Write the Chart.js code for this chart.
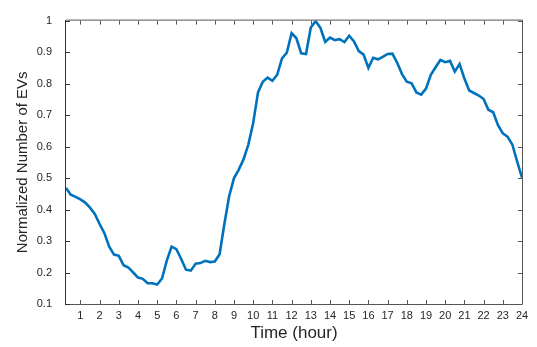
<!DOCTYPE html>
<html lang="en">
<head>
    <meta charset="UTF-8">
    <title>Normalized Number of EVs</title>
    <style>
        html, body {
            margin: 0;
            padding: 0;
            background-color: #fff;
        }
        .chart-box {
            width: 537px;
            height: 347px;
        }
    </style>
</head>
<body>

<div class="chart-box">
    <canvas id="evChart" width="537" height="347"></canvas>
</div>

<script src="https://cdn.jsdelivr.net/npm/chart.js"></script>
<script>
    // time of day, every 15 minutes
    const hours = [
        0.25, 0.5, 0.75, 1, 1.25, 1.5, 1.75, 2, 2.25, 2.5, 2.75, 3,
        3.25, 3.5, 3.75, 4, 4.25, 4.5, 4.75, 5, 5.25, 5.5, 5.75, 6,
        6.25, 6.5, 6.75, 7, 7.25, 7.5, 7.75, 8, 8.25, 8.5, 8.75, 9,
        9.25, 9.5, 9.75, 10, 10.25, 10.5, 10.75, 11, 11.25, 11.5, 11.75, 12,
        12.25, 12.5, 12.75, 13, 13.25, 13.5, 13.75, 14, 14.25, 14.5, 14.75, 15,
        15.25, 15.5, 15.75, 16, 16.25, 16.5, 16.75, 17, 17.25, 17.5, 17.75, 18,
        18.25, 18.5, 18.75, 19, 19.25, 19.5, 19.75, 20, 20.25, 20.5, 20.75, 21,
        21.25, 21.5, 21.75, 22, 22.25, 22.5, 22.75, 23, 23.25, 23.5, 23.75, 24
    ];

    const evCount = [
        0.468, 0.447, 0.440, 0.432, 0.422, 0.406, 0.386, 0.354, 0.325, 0.282, 0.257, 0.253,
        0.223, 0.216, 0.200, 0.184, 0.180, 0.166, 0.166, 0.162, 0.181, 0.238, 0.282, 0.274,
        0.243, 0.209, 0.206, 0.228, 0.230, 0.237, 0.233, 0.235, 0.258, 0.355, 0.443, 0.500,
        0.527, 0.560, 0.607, 0.675, 0.772, 0.806, 0.819, 0.809, 0.828, 0.880, 0.898, 0.960,
        0.944, 0.896, 0.894, 0.978, 0.998, 0.977, 0.932, 0.946, 0.938, 0.941, 0.932, 0.952,
        0.934, 0.903, 0.892, 0.850, 0.882, 0.877, 0.885, 0.894, 0.895, 0.866, 0.830, 0.806,
        0.801, 0.772, 0.765, 0.784, 0.828, 0.852, 0.875, 0.868, 0.872, 0.838, 0.862, 0.816,
        0.778, 0.770, 0.762, 0.751, 0.717, 0.709, 0.668, 0.642, 0.631, 0.606, 0.552, 0.501
    ];

    const xTicks = [1, 2, 3, 4, 5, 6, 7, 8, 9, 10, 11, 12, 13, 14, 15, 16, 17, 18, 19, 20, 21, 22, 23, 24];
    const yTicks = [0.1, 0.2, 0.3, 0.4, 0.5, 0.6, 0.7, 0.8, 0.9, 1];

    const fontFamily = 'Liberation Sans, Arial, sans-serif';
    const tickFont = { family: fontFamily, size: 11 };
    const axisColor = '#262626';

    // MATLAB-style box with inward tick marks on all four sides
    const boxPlugin = {
        id: 'matlabBox',
        afterDraw(chart) {
            const { ctx, chartArea: a, scales } = chart;
            const len = 4;
            ctx.save();
            ctx.lineWidth = 1;
            ctx.strokeStyle = '#555';
            ctx.beginPath();
            ctx.moveTo(a.left, a.bottom + 0.5);
            ctx.lineTo(a.right + 0.5, a.bottom + 0.5);
            ctx.lineTo(a.right + 0.5, a.top - 0.5);
            ctx.lineTo(a.left, a.top - 0.5);
            xTicks.forEach(v => {
                const x = Math.round(scales.x.getPixelForValue(v)) + 0.5;
                ctx.moveTo(x, a.bottom);
                ctx.lineTo(x, a.bottom - len);
                ctx.moveTo(x, a.top);
                ctx.lineTo(x, a.top + len);
            });
            yTicks.forEach(v => {
                const y = Math.round(scales.y.getPixelForValue(v)) + 0.5;
                ctx.moveTo(a.right, y);
                ctx.lineTo(a.right - len, y);
            });
            ctx.stroke();
            ctx.strokeStyle = '#333';
            ctx.beginPath();
            ctx.moveTo(a.left - 0.5, a.top - 0.5);
            ctx.lineTo(a.left - 0.5, a.bottom + 1);
            yTicks.forEach(v => {
                const y = Math.round(scales.y.getPixelForValue(v)) + 0.5;
                ctx.moveTo(a.left, y);
                ctx.lineTo(a.left + len, y);
            });
            ctx.stroke();
            ctx.restore();
        }
    };

    const config = {
        type: 'line',
        data: {
            datasets: [{
                data: hours.map((h, i) => ({ x: h, y: evCount[i] })),
                borderColor: '#0072BD',
                borderWidth: 2.6,
                pointRadius: 0,
                tension: 0,
                fill: false
            }]
        },
        options: {
            responsive: false,
            animation: false,
            layout: { padding: { top: 7, right: 15, bottom: 0, left: 0 } },
            plugins: {
                legend: { display: false },
                tooltip: { enabled: false }
            },
            scales: {
                x: {
                    type: 'linear',
                    min: 0.25,
                    max: 24,
                    afterBuildTicks: scale => { scale.ticks = xTicks.map(v => ({ value: v })); },
                    afterFit: scale => { scale.height = 43; },
                    grid: { display: false, drawTicks: false },
                    border: { display: false },
                    ticks: {
                        font: tickFont,
                        color: axisColor,
                        padding: 5,
                        maxRotation: 0,
                        autoSkip: false
                    },
                    title: {
                        display: true,
                        text: 'Time (hour)',
                        color: axisColor,
                        font: { family: fontFamily, size: 17 },
                        padding: { top: 0, bottom: 3 }
                    }
                },
                y: {
                    min: 0.1,
                    max: 1,
                    afterBuildTicks: scale => { scale.ticks = yTicks.map(v => ({ value: v })); },
                    afterFit: scale => { scale.width = 66; },
                    grid: { display: false, drawTicks: false },
                    border: { display: false },
                    ticks: {
                        font: tickFont,
                        color: axisColor,
                        padding: 14,
                        callback: v => String(Math.round(v * 10) / 10)
                    },
                    title: {
                        display: true,
                        text: 'Normalized Number of EVs',
                        color: axisColor,
                        font: { family: fontFamily, size: 15 },
                        padding: { top: 14, bottom: 0 }
                    }
                }
            }
        },
        plugins: [boxPlugin]
    };

    window.onload = function() {
        const ctx = document.getElementById('evChart').getContext('2d');
        window.evChart = new Chart(ctx, config);
    };
</script>

</body>
</html>
